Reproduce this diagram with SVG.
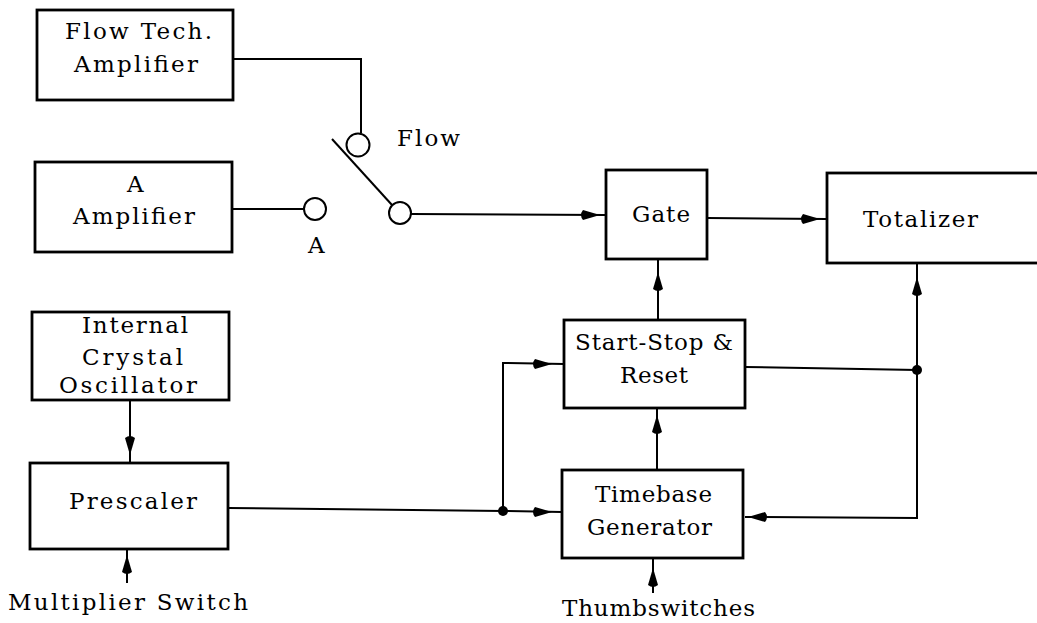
<svg xmlns="http://www.w3.org/2000/svg" xmlns:xlink="http://www.w3.org/1999/xlink" width="1037" height="623" viewBox="0 0 1037 623">
<style>
.box{fill:none;stroke:#000;stroke-width:2.8}
.ln{fill:none;stroke:#000;stroke-width:2}
.t{font-family:"DejaVu Serif","Liberation Serif",serif;font-size:23px;fill:#000}
.dot{fill:#000}
.c{fill:#fff;stroke:#000;stroke-width:2}
</style>
<defs>
<path id="ah" d="M0,0 L-17,-5 Q-21,0 -17,5 Z" fill="#000"/>
</defs>
<rect width="1037" height="623" fill="#fff"/>
<g id="connectors">
<polyline class="ln" points="233,59 361,59 361,133"/>
<line class="ln" x1="232" y1="209" x2="304" y2="209"/>
<line class="ln" x1="332" y1="139" x2="392" y2="205"/>
<line class="ln" x1="411" y1="214" x2="606" y2="215"/>
<line class="ln" x1="707" y1="218" x2="827" y2="219"/>
<line class="ln" x1="658" y1="320" x2="658" y2="259"/>
<line class="ln" x1="917" y1="370" x2="917" y2="263"/>
<polyline class="ln" points="745,367 917,370 917,518 745,517"/>
<line class="ln" x1="657" y1="470" x2="657" y2="408"/>
<polyline class="ln" points="228,508 503,511 562,512"/>
<polyline class="ln" points="503,511 503,363 564,364"/>
<line class="ln" x1="130" y1="400" x2="130" y2="463"/>
<line class="ln" x1="127" y1="583" x2="127" y2="549"/>
<line class="ln" x1="653" y1="593" x2="653" y2="558"/>
<use xlink:href="#ah" transform="translate(600,215)"/>
<use xlink:href="#ah" transform="translate(820,219)"/>
<use xlink:href="#ah" transform="translate(552,364)"/>
<use xlink:href="#ah" transform="translate(552,512)"/>
<use xlink:href="#ah" transform="translate(658,272) rotate(-90)"/>
<use xlink:href="#ah" transform="translate(917,277) rotate(-90)"/>
<use xlink:href="#ah" transform="translate(657,415) rotate(-90)"/>
<use xlink:href="#ah" transform="translate(748,517) rotate(180)"/>
<use xlink:href="#ah" transform="translate(653,568) rotate(-90)"/>
<use xlink:href="#ah" transform="translate(130,455) rotate(90)"/>
<use xlink:href="#ah" transform="translate(127,555) rotate(-90)"/>
<circle class="dot" cx="503" cy="511" r="5"/>
<circle class="dot" cx="917" cy="370" r="5"/>
<circle class="c" cx="358" cy="145" r="11.5"/>
<circle class="c" cx="315" cy="209" r="11"/>
<circle class="c" cx="400" cy="213" r="11"/>
<text class="t" x="397" y="146" textLength="63" lengthAdjust="spacing">Flow</text>
<text class="t" x="308" y="253" textLength="16" lengthAdjust="spacing">A</text>
<text class="t" x="8" y="610" textLength="240" lengthAdjust="spacing">Multiplier Switch</text>
<text class="t" x="562" y="616" textLength="193" lengthAdjust="spacing">Thumbswitches</text>
</g>
<g id="flowtech">
<rect class="box" x="37" y="10" width="196" height="90"/>
<text class="t" x="65" y="39" textLength="147" lengthAdjust="spacing">Flow Tech.</text>
<text class="t" x="74" y="72" textLength="124" lengthAdjust="spacing">Amplifier</text>
</g>
<g id="aamp">
<rect class="box" x="35" y="162" width="197" height="90"/>
<text class="t" x="127" y="192" textLength="15" lengthAdjust="spacing">A</text>
<text class="t" x="73" y="224" textLength="122" lengthAdjust="spacing">Amplifier</text>
</g>
<g id="gate">
<rect class="box" x="606" y="170" width="101" height="89"/>
<text class="t" x="632" y="222" textLength="58" lengthAdjust="spacing">Gate</text>
</g>
<g id="totalizer">
<rect class="box" x="827" y="173" width="215" height="90"/>
<text class="t" x="863" y="227" textLength="115" lengthAdjust="spacing">Totalizer</text>
</g>
<g id="oscillator">
<rect class="box" x="32" y="312" width="197" height="88"/>
<text class="t" x="82" y="333" textLength="106" lengthAdjust="spacing">Internal</text>
<text class="t" x="82" y="365" textLength="101" lengthAdjust="spacing">Crystal</text>
<text class="t" x="59" y="393" textLength="138" lengthAdjust="spacing">Oscillator</text>
</g>
<g id="prescaler">
<rect class="box" x="30" y="463" width="198" height="86"/>
<text class="t" x="69" y="509" textLength="128" lengthAdjust="spacing">Prescaler</text>
</g>
<g id="startstop">
<rect class="box" x="564" y="320" width="181" height="88"/>
<text class="t" x="575" y="350" textLength="158" lengthAdjust="spacing">Start-Stop &amp;</text>
<text class="t" x="620" y="383" textLength="68" lengthAdjust="spacing">Reset</text>
</g>
<g id="timebase">
<rect class="box" x="562" y="470" width="181" height="88"/>
<text class="t" x="595" y="502" textLength="117" lengthAdjust="spacing">Timebase</text>
<text class="t" x="587" y="535" textLength="125" lengthAdjust="spacing">Generator</text>
</g>
</svg>
